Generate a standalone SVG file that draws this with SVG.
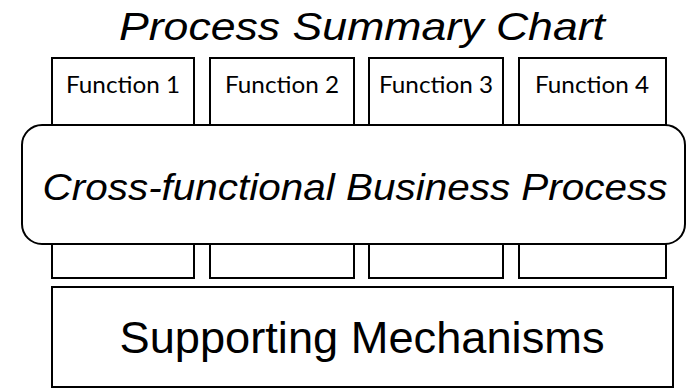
<svg xmlns="http://www.w3.org/2000/svg" width="695" height="389" viewBox="0 0 695 389">
<style>
.box{fill:#fff;stroke:#000;stroke-width:2}
.fn{font-family:Lato,"Liberation Sans",sans-serif;font-size:23px;text-anchor:middle;fill:#000}
.big{font-family:"Liberation Sans",Arial,sans-serif;fill:#000;text-anchor:middle}
</style>
<rect width="695" height="389" fill="#fff"/>
<text class="big" x="362" y="40" font-size="38" font-style="italic" textLength="486" lengthAdjust="spacingAndGlyphs">Process Summary Chart</text>
<g id="function1"><rect class="box" x="52" y="58" width="142" height="220"/><text class="fn" x="123" y="93" textLength="114" lengthAdjust="spacingAndGlyphs">Function 1</text></g>
<g id="function2"><rect class="box" x="210" y="58" width="144" height="220"/><text class="fn" x="282" y="93" textLength="114" lengthAdjust="spacingAndGlyphs">Function 2</text></g>
<g id="function3"><rect class="box" x="369" y="58" width="134" height="220"/><text class="fn" x="436" y="93" textLength="114" lengthAdjust="spacingAndGlyphs">Function 3</text></g>
<g id="function4"><rect class="box" x="519" y="58" width="147" height="220"/><text class="fn" x="592" y="93" textLength="114" lengthAdjust="spacingAndGlyphs">Function 4</text></g>
<g id="process"><rect class="box" x="22" y="125" width="663" height="119" rx="20" ry="20"/><text class="big" x="355" y="200" font-size="37" font-style="italic" textLength="625" lengthAdjust="spacingAndGlyphs">Cross-functional Business Process</text></g>
<g id="supporting"><rect class="box" x="52" y="287" width="621" height="100"/><text class="big" x="362" y="353" font-size="44" textLength="485" lengthAdjust="spacingAndGlyphs">Supporting Mechanisms</text></g>
<g id="connectors"></g>
</svg>
